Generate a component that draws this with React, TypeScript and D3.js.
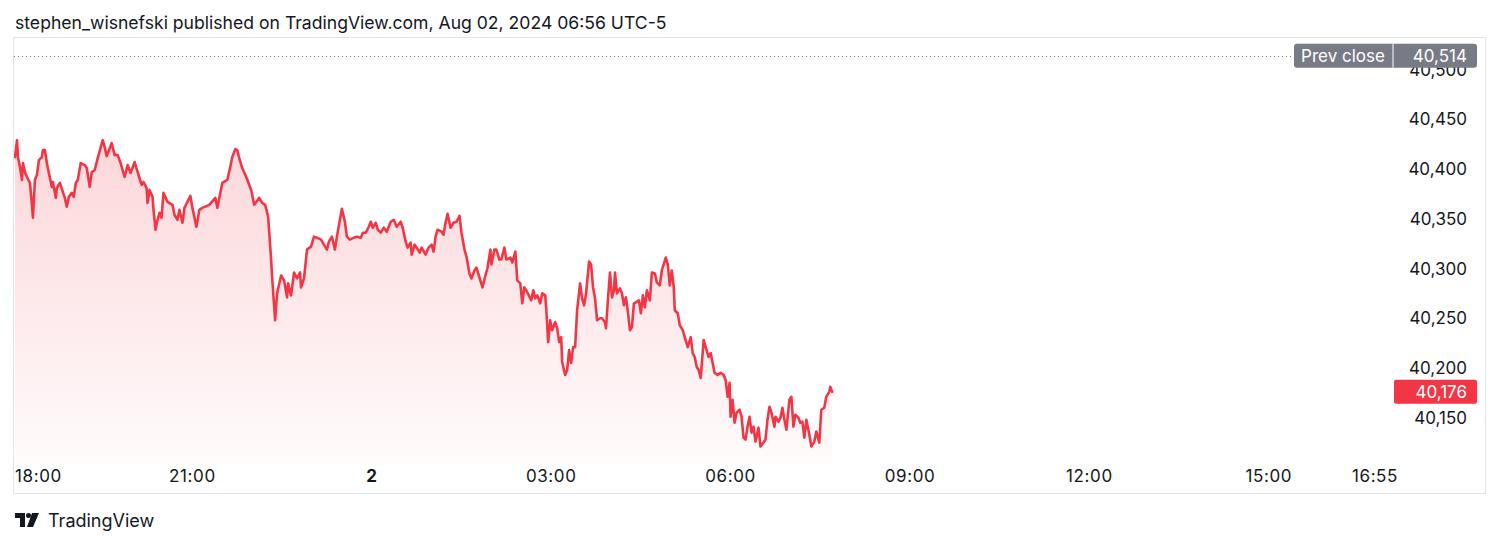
import React from "react";
import * as d3 from "d3";

// minutes after 18:00 (Aug 1) , price
const eveningSession: [number, number][] = [
  [2, 40412], [4, 40429], [5, 40412], [7, 40402], [9, 40389], [10, 40406], [12, 40397], [14, 40392],
  [17, 40386], [19, 40364], [20, 40351], [22, 40389], [24, 40394], [26, 40409], [29, 40412], [30, 40419],
  [32, 40419], [34, 40406], [36, 40396], [39, 40382], [40, 40387], [43, 40371], [44, 40381], [47, 40386],
  [50, 40377], [52, 40371], [54, 40362], [56, 40372], [59, 40376], [61, 40372], [63, 40386], [65, 40389],
  [68, 40406], [72, 40404], [74, 40401], [77, 40382], [79, 40397], [82, 40399], [85, 40411], [90, 40429],
  [92, 40422], [94, 40413], [99, 40426], [102, 40414], [105, 40414], [108, 40406], [112, 40392], [115, 40404],
  [118, 40396], [122, 40407], [126, 40394], [129, 40384], [131, 40387], [134, 40381], [135, 40366], [137, 40379],
  [140, 40372], [141, 40359], [143, 40339], [145, 40349], [147, 40356], [149, 40351], [151, 40376], [155, 40367],
  [160, 40364], [162, 40354], [165, 40349], [167, 40359], [170, 40346], [172, 40361], [178, 40373], [180, 40361],
  [184, 40342], [187, 40359], [190, 40361], [197, 40364], [203, 40371], [205, 40361], [208, 40376], [210, 40386],
  [215, 40389], [218, 40402], [220, 40412], [223, 40420], [225, 40419], [227, 40411], [230, 40401], [234, 40392],
  [239, 40379], [242, 40364], [247, 40371], [250, 40366], [253, 40364], [255, 40356],
];

const overnightSession: [number, number][] = [
  [256, 40352], [259, 40309], [260, 40291], [263, 40248], [265, 40275], [269, 40293], [272, 40288], [275, 40271],
  [276, 40285], [279, 40273], [282, 40296], [285, 40290], [288, 40296], [289, 40281], [292, 40290], [295, 40319],
  [299, 40322], [302, 40332], [305, 40331], [309, 40329], [312, 40324], [315, 40319], [317, 40327], [320, 40332],
  [323, 40319], [325, 40332], [328, 40349], [330, 40360], [333, 40347], [335, 40332], [338, 40329], [342, 40331],
  [345, 40332], [349, 40331], [351, 40336], [354, 40336], [357, 40342], [359, 40347], [361, 40341], [364, 40346],
  [366, 40339], [369, 40336], [372, 40341], [375, 40337], [379, 40347], [382, 40349], [385, 40342], [389, 40347],
  [391, 40341], [394, 40327], [396, 40321], [399, 40326], [400, 40314], [403, 40324], [405, 40321], [408, 40316],
  [410, 40321], [414, 40314], [417, 40321], [420, 40324], [422, 40317], [424, 40332], [426, 40339], [430, 40337],
  [432, 40334], [434, 40346], [436, 40355], [439, 40341], [442, 40346], [445, 40347], [448, 40353], [450, 40336],
  [453, 40319], [455, 40312], [458, 40295], [460, 40290], [463, 40298], [465, 40301], [468, 40291], [471, 40281],
  [474, 40293], [476, 40300], [479, 40319], [480, 40304], [483, 40319], [485, 40319], [488, 40309], [490, 40309],
  [493, 40321], [495, 40309], [499, 40311], [501, 40306], [504, 40317], [506, 40288], [509, 40285], [511, 40265],
  [513, 40281], [515, 40278],
];

const earlySession: [number, number][] = [
  [520, 40268], [522, 40278], [524, 40270], [526, 40273], [529, 40265], [531, 40275], [534, 40273], [535, 40260],
  [537, 40226], [539, 40248], [541, 40238], [544, 40246], [546, 40240], [548, 40226], [550, 40231], [551, 40206],
  [554, 40193], [556, 40198], [558, 40218], [560, 40205], [562, 40221], [564, 40221], [566, 40258], [569, 40285],
  [571, 40270], [573, 40263], [575, 40275], [578, 40307], [580, 40304], [582, 40281], [584, 40270], [586, 40248],
  [589, 40250], [591, 40250], [594, 40246], [595, 40240], [597, 40270], [599, 40296], [601, 40271], [603, 40278],
  [604, 40296], [606, 40275], [609, 40280], [611, 40275], [613, 40263], [615, 40271], [617, 40256], [619, 40238],
  [621, 40241], [623, 40265], [625, 40266], [628, 40268], [630, 40255], [632, 40273], [634, 40261], [636, 40278],
  [639, 40268], [641, 40296], [644, 40295], [646, 40286], [649, 40283], [651, 40298], [655, 40311], [657, 40304],
  [659, 40283], [661, 40298], [663, 40281], [664, 40258], [667, 40255], [669, 40243], [672, 40238], [674, 40231],
  [677, 40221], [680, 40231], [682, 40215], [684, 40211], [686, 40201],
];

const morningSession: [number, number][] = [
  [688, 40198], [690, 40190], [693, 40228], [695, 40221], [698, 40211], [700, 40215], [702, 40205], [704, 40195],
  [707, 40193], [710, 40195], [713, 40193], [715, 40188], [717, 40171], [719, 40185], [720, 40151], [722, 40168],
  [724, 40145], [726, 40155], [729, 40158], [731, 40151], [733, 40130], [735, 40128], [737, 40141], [739, 40151],
  [741, 40135], [743, 40141], [745, 40126], [748, 40140], [750, 40121], [753, 40125], [755, 40128], [757, 40148],
  [759, 40161], [761, 40155], [764, 40141], [765, 40151], [768, 40146], [770, 40150], [772, 40160], [774, 40148],
  [776, 40138], [779, 40168], [781, 40171], [783, 40141], [785, 40153], [788, 40150], [790, 40145], [792, 40146],
  [794, 40130], [796, 40148], [799, 40133], [801, 40121], [804, 40126], [806, 40136], [809, 40125], [811, 40158],
  [814, 40160], [816, 40171], [819, 40176], [820, 40181], [822, 40176],
];

const timeTicks: [number, string][] = [
  [0, "18:00"], [180, "21:00"], [360, "2"], [540, "03:00"], [720, "06:00"],
  [900, "09:00"], [1080, "12:00"], [1260, "15:00"], [1375, "16:55"],
];
const priceTicks = [40150, 40200, 40250, 40300, 40350, 40400, 40450, 40500];
const prevClose = 40514;
const lastPrice = 40176;
const headerText = "stephen_wisnefski published on TradingView.com, Aug 02, 2024 06:56 UTC-5";

const FONT = "Inter, 'Noto Sans', sans-serif";
const RED = "#F23645";
const TEXT = "#131722";

export default function App() {
  const data = [...eveningSession, ...overnightSession, ...earlySession, ...morningSession];
  const x = d3.scaleLinear().domain([0, 1380]).range([13, 13 + 23 * 59.8]);
  const y = d3.scaleLinear().domain([40150, 40450]).range([417.7, 119.3]);
  const paneLeft = 14, paneRight = 1395, paneTop = 38, paneBottom = 462;
  const frameRight = 1485, frameBottom = 493;

  const line = d3.line<[number, number]>().x((d) => x(d[0])).y((d) => y(d[1])).curve(d3.curveLinear);
  const area = d3.area<[number, number]>().x((d) => x(d[0])).y0(paneBottom).y1((d) => y(d[1]));
  const maxY = y(d3.max(data, (d) => d[1]) as number);

  const fmt = d3.format(",");
  const yPrev = y(prevClose);
  const yLast = y(lastPrice);

  return (
    <svg width={1500} height={544} style={{ position: "absolute", left: 0, top: 0, background: "#fff" }}>
      <defs>
        <linearGradient id="fillGrad" gradientUnits="userSpaceOnUse" x1={0} y1={maxY} x2={0} y2={paneBottom}>
          <stop offset="0%" stopColor={RED} stopOpacity={0.2} />
          <stop offset="100%" stopColor={RED} stopOpacity={0.02} />
        </linearGradient>
        <clipPath id="paneClip">
          <rect x={paneLeft} y={paneTop} width={paneRight - paneLeft} height={paneBottom - paneTop} />
        </clipPath>
      </defs>
      <rect x={0} y={0} width={1500} height={544} fill="#fff" />
      <text x={15} y={22} dominantBaseline="central" fontFamily={FONT} fontSize={17.6} fill={TEXT}>
        {headerText}
      </text>
      <rect x={paneLeft - 0.5} y={paneTop - 0.5} width={frameRight - paneLeft + 1} height={frameBottom - paneTop + 1}
        fill="none" stroke="#e0e3eb" strokeWidth={1} />

      <g clipPath="url(#paneClip)">
        <path d={area(data) || ""} fill="url(#fillGrad)" />
        <path d={line(data) || ""} fill="none" stroke={RED} strokeWidth={2.6} strokeLinejoin="round" strokeLinecap="round" />
      </g>

      <line x1={paneLeft} x2={1292} y1={Math.round(yPrev) + 0.5} y2={Math.round(yPrev) + 0.5}
        stroke="#787b86" strokeWidth={1} strokeDasharray="1,3" />

      {priceTicks.map((p) => (
        <text key={p} x={1467} y={y(p)} textAnchor="end" dominantBaseline="central"
          fontFamily={FONT} fontSize={17} fill={TEXT}>{fmt(p)}</text>
      ))}

      {timeTicks.map(([t, label], i) => {
        let px = x(t);
        let anchor: "start" | "middle" | "end" = "middle";
        if (i === 0) { px = 15; anchor = "start"; }
        if (i === timeTicks.length - 1) { px = 1398; anchor = "end"; }
        return (
          <text key={label} x={px} y={476} textAnchor={anchor} dominantBaseline="central"
            fontFamily={FONT} fontSize={17} letterSpacing={0.6}
            fontWeight={label === "2" ? 700 : 400} fill={TEXT}>{label}</text>
        );
      })}

      {/* Prev close label */}
      <rect x={1294} y={yPrev - 12} width={183} height={24} rx={3} fill="#787b86" />
      <line x1={1393} x2={1393} y1={yPrev - 12} y2={yPrev + 12} stroke="#fff" strokeWidth={1} />
      <text x={1343} y={yPrev} textAnchor="middle" dominantBaseline="central" fontFamily={FONT} fontSize={17} fill="#fff">Prev close</text>
      <text x={1467} y={yPrev} textAnchor="end" dominantBaseline="central" fontFamily={FONT} fontSize={17} fill="#fff">{fmt(prevClose)}</text>

      {/* Last price label */}
      <rect x={1394} y={yLast - 12} width={83} height={24} rx={2} fill={RED} />
      <text x={1467} y={yLast} textAnchor="end" dominantBaseline="central" fontFamily={FONT} fontSize={17} fill="#fff">{fmt(lastPrice)}</text>

      {/* TradingView logo */}
      <g fill={TEXT}>
        <path d="M15 513 H25 V527 H20 V518 H15 Z" />
        <circle cx={28.5} cy={515.5} r={2.5} />
        <path d="M32 513 H39 L33 527 H27 Z" />
      </g>
      <text x={48} y={520} dominantBaseline="central" fontFamily={FONT} fontSize={18} fill={TEXT}>TradingView</text>
    </svg>
  );
}
